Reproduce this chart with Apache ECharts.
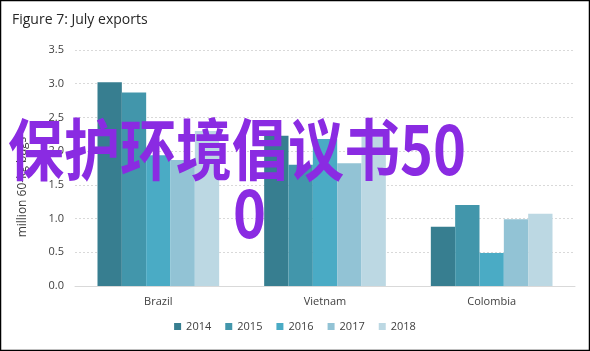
<!DOCTYPE html>
<html>
<head>
<meta charset="utf-8">
<script src="https://cdn.jsdelivr.net/npm/echarts@6/dist/echarts.min.js"></script>
<style>
  html, body { margin: 0; padding: 0; background: #fff; }
  #main { width: 590px; height: 351px; }
</style>
</head>
<body>
<div id="main"></div>
<script>
var countries = ['Brazil', 'Vietnam', 'Colombia'];
var years = ['2014', '2015', '2016', '2017', '2018'];
var colors = ['#377e90', '#4296ab', '#4aabc5', '#92c3d5', '#bcd8e3'];
// million 60-kg bags, per year, in country order
var exports2014 = [3.02, 2.23, 0.88];
var exports2015 = [2.87, 1.80, 1.20];
var exports2016 = [1.94, 2.18, 0.49];
var exports2017 = [1.87, 1.82, 0.99];
var exports2018 = [2.30, 2.21, 1.07];
var yearValues = [exports2014, exports2015, exports2016, exports2017, exports2018];

var myChart = echarts.init(document.getElementById('main'));
var font = '"Open Sans", "Noto Sans", sans-serif';

var series = years.map(function (y, i) {
    return {
        name: y,
        type: 'bar',
        data: yearValues[i],
        barGap: '0%',
        barCategoryGap: '27%',
        itemStyle: { color: colors[i] }
    };
});

var option = {
    animation: false,
    backgroundColor: '#fff',
    title: {
        text: 'Figure 7: July exports',
        left: 7,
        top: 8,
        textStyle: { fontFamily: font, fontSize: 14, fontWeight: 'normal', color: '#262626' }
    },
    legend: {
        bottom: 14,
        left: 'center',
        itemWidth: 7,
        itemHeight: 7,
        itemGap: 14,
        icon: 'rect',
        textStyle: { fontFamily: font, fontSize: 11, color: '#404040' },
        data: years
    },
    grid: { left: 75, right: 15, top: 50, bottom: 65 },
    xAxis: {
        type: 'category',
        data: countries,
        axisTick: { show: false },
        axisLine: { lineStyle: { color: '#d9d9d9' } },
        axisLabel: { fontFamily: font, fontSize: 11, color: '#404040', margin: 10 }
    },
    yAxis: {
        type: 'value',
        min: 0,
        max: 3.5,
        interval: 0.5,
        name: 'million 60-kg bags',
        nameLocation: 'middle',
        nameGap: 46,
        nameTextStyle: { fontFamily: font, fontSize: 12, color: '#404040', padding: [0, 38, 0, 0] },
        axisLabel: {
            fontFamily: font, fontSize: 11, color: '#404040', margin: 11,
            formatter: function (v) { return v.toFixed(1); }
        },
        splitLine: { lineStyle: { color: '#d9d9d9', type: [2, 2] } }
    },
    series: series,
    graphic: [
        {
            type: 'rect',
            shape: { x: 0.5, y: 0.5, width: 589, height: 350 },
            style: { fill: 'none', stroke: '#000', lineWidth: 1.5 },
            z: 100
        },
        {
            type: 'text',
            x: 8,
            y: 116,
            scaleY: 1.2,
            z: 100,
            style: {
                text: '保护环境倡议书50',
                fill: '#8a2be2',
                font: 'bold 56px "Noto Sans CJK SC"',
                textVerticalAlign: 'top'
            }
        },
        {
            type: 'text',
            x: 233,
            y: 179,
            scaleY: 1.2,
            z: 100,
            style: {
                text: '0',
                fill: '#8a2be2',
                font: 'bold 56px "Noto Sans CJK SC"',
                textVerticalAlign: 'top'
            }
        }
    ]
};

myChart.setOption(option);
</script>
</body>
</html>
